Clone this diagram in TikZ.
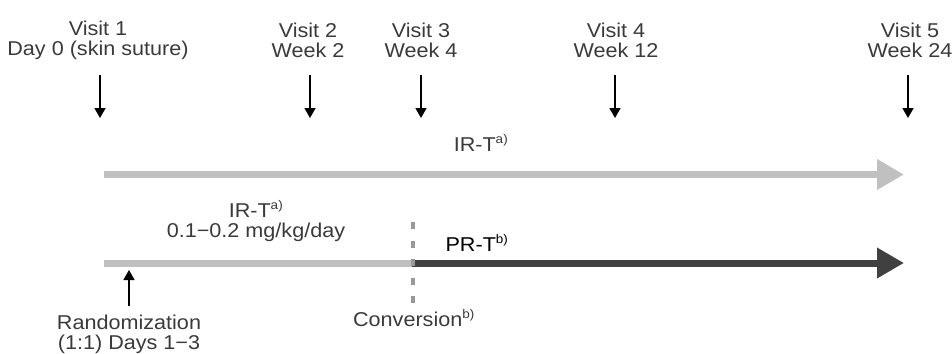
\documentclass[tikz,border=0pt]{standalone}
\usepackage{fontspec}
\setmainfont{Liberation Sans}[FakeStretch=1.08]
\usetikzlibrary{arrows.meta}
\definecolor{txt}{HTML}{3A3A3A}
\definecolor{lightbar}{HTML}{C0C0C0}
\definecolor{darkbar}{HTML}{404040}
\definecolor{dashgray}{HTML}{999999}
\tikzset{
  lbl/.style={inner sep=0pt, text=txt, font=\fontsize{20}{20}\selectfont, align=center},
  visitarrow/.style={line width=1.6pt, draw=black, -{Triangle[length=10pt,width=11pt]}},
  bigbar/.style={line width=7pt, line cap=butt},
  bigtip/.style={-{Triangle[length=27pt,width=29pt]}},
}
\newcommand{\supx}[1]{\textsuperscript{\fontsize{12.5}{12.5}\selectfont #1}}
\begin{document}
\begin{tikzpicture}[x=1pt,y=-1pt]
\useasboundingbox (0,0) rectangle (952,353);
% visit labels
\node[lbl] (v1) at (98,40) {Visit 1\\Day 0 (skin suture)};
\node[lbl] (v2) at (308,40) {Visit 2\\Week 2};
\node[lbl] (v3) at (421,40) {Visit 3\\Week 4};
\node[lbl] (v4) at (616,40) {Visit 4\\Week 12};
\node[lbl] (v5) at (910,40) {Visit 5\\Week 24};
% visit arrows
\foreach \n/\x in {1/100,2/310,3/421,4/615,5/908}{
  \coordinate (a\n s) at (\x,75);
  \coordinate (a\n e) at (\x,118);
  \draw[visitarrow] (a\n s) -- (a\n e);
}
% top arrow
\coordinate (ts) at (104,174.5);
\coordinate (te) at (904,174.5);
\draw[bigbar, draw=lightbar, bigtip] (ts) -- (te);
\node[lbl, anchor=base] (irtop) at (481,151) {IR-T\supx{a)}};
% bottom arrow
\coordinate (bs) at (104,263);
\coordinate (bc) at (412,263);
\coordinate (be) at (904,263);
\draw[bigbar, draw=lightbar] (bs) -- (bc);
\draw[bigbar, draw=darkbar, bigtip] (bc) -- (be);
% conversion dashed line
\coordinate (cs) at (413,222);
\coordinate (ce) at (413,306);
\draw[dashgray, line width=3.5pt, dash pattern=on 7pt off 11.5pt] (cs) -- (ce);
% labels bottom
\node[lbl] (irbot) at (256,221) {IR-T\supx{a)}\\0.1−0.2 mg/kg/day};
\node[lbl, anchor=base, text=black] (prt) at (477,251) {PR-T\supx{b)}};
\node[lbl, anchor=base] (conv) at (414,326) {Conversion\supx{b)}};
\node[lbl] (rand) at (129,334) {Randomization\\(1:1) Days 1−3};
% randomization arrow
\coordinate (rs) at (129,306);
\coordinate (re) at (129,270);
\draw[visitarrow] (rs) -- (re);
\end{tikzpicture}
\end{document}
